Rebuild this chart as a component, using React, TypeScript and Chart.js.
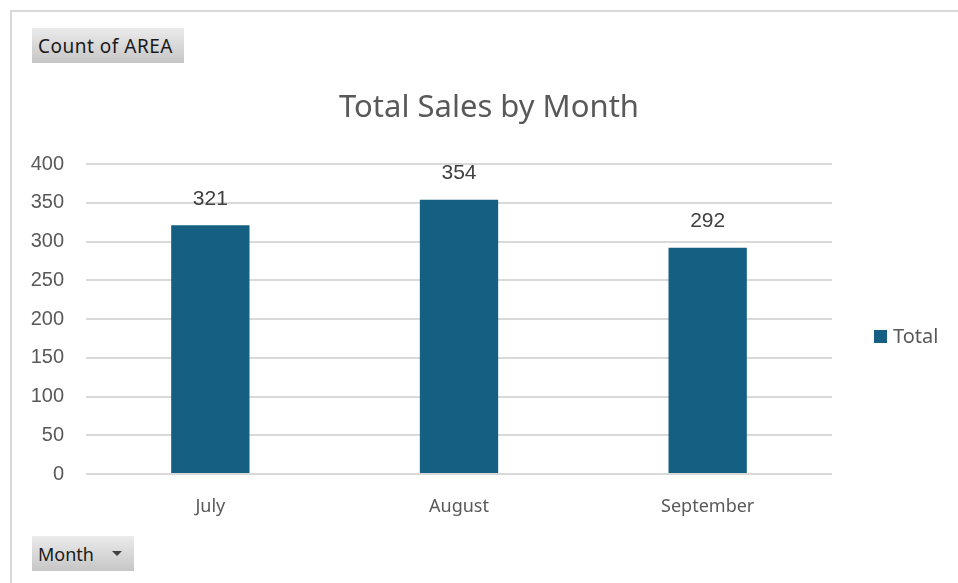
import React, { useEffect, useRef } from "react";
import { Chart, registerables } from "chart.js";

Chart.register(...registerables);

const months = ["July", "August", "September"];
const totals = [321, 354, 292];
const seriesName = "Total";
const chartTitle = "Total Sales by Month";
const yTicks = [0, 50, 100, 150, 200, 250, 300, 350, 400];

const BAR = "#156082";

const overlayPlugin = {
  id: "overlay",
  afterDatasetsDraw(chart: any) {
    const ctx = chart.ctx;
    const meta = chart.getDatasetMeta(0);
    ctx.save();
    // data labels
    ctx.font = "21px 'Liberation Sans', Arial, sans-serif";
    ctx.fillStyle = "#404040";
    ctx.textAlign = "center";
    ctx.textBaseline = "middle";
    meta.data.forEach((bar: any, i: number) => {
      const v = chart.data.datasets[0].data[i];
      ctx.fillText(String(v), bar.x, bar.y - 26);
    });
    // title
    ctx.font = "31px 'Noto Sans', sans-serif";
    ctx.fillStyle = "#595959";
    ctx.fillText(chartTitle, 489, 108);
    // legend
    const area = chart.chartArea;
    ctx.fillStyle = BAR;
    ctx.fillRect(area.right + 42, 330, 13, 13);
    ctx.font = "20px 'Noto Sans', sans-serif";
    ctx.fillStyle = "#595959";
    ctx.textAlign = "left";
    ctx.fillText(chart.data.datasets[0].label, area.right + 61, 337);
    ctx.restore();
  },
};

const btnStyle: React.CSSProperties = {
  position: "absolute",
  left: 32,
  height: 35,
  background: "linear-gradient(#ebebeb, #c6c6c6)",
  fontFamily: "'Noto Sans', sans-serif",
  fontSize: 18,
  color: "#1a1a1a",
  display: "flex",
  alignItems: "center",
  paddingLeft: 6,
  boxSizing: "border-box",
  whiteSpace: "nowrap",
};

export default function App() {
  const ref = useRef<HTMLCanvasElement | null>(null);
  useEffect(() => {
    if (!ref.current) return;
    const chart = new Chart(ref.current, {
      type: "bar",
      data: {
        labels: months,
        datasets: [
          {
            label: seriesName,
            data: totals,
            backgroundColor: BAR,
            categoryPercentage: 1,
            barPercentage: 0.315,
          },
        ],
      },
      options: {
        animation: false,
        responsive: false,
        layout: { padding: { left: 20, right: 126, top: 164, bottom: 49 } },
        plugins: {
          legend: { display: false },
          title: { display: false },
          tooltip: { enabled: false },
        },
        scales: {
          x: {
            grid: { display: false, drawTicks: false },
            border: { display: false },
            ticks: {
              color: "#595959",
              font: { family: "'Noto Sans', sans-serif", size: 18 },
              padding: 22,
              maxRotation: 0,
            },
            afterFit(scale: any) {
              scale.height = 60;
            },
          },
          y: {
            min: yTicks[0],
            max: yTicks[yTicks.length - 1],
            afterBuildTicks(scale: any) {
              scale.ticks = yTicks.map((v) => ({ value: v }));
            },
            grid: { color: "#d9d9d9", lineWidth: 2, drawTicks: false },
            border: { display: false },
            ticks: {
              color: "#595959",
              font: { family: "'Liberation Sans', Arial, sans-serif", size: 20 },
              padding: 22,
            },
            afterFit(scale: any) {
              scale.width = 66;
            },
          },
        },
      },
      plugins: [overlayPlugin],
    });
    return () => chart.destroy();
  }, []);

  return (
    <div style={{ position: "fixed", left: 0, top: 0, width: 958, height: 583, background: "#fff", overflow: "hidden" }}>
      <div style={{ position: "absolute", left: 10, top: 10, right: 0, height: 2, background: "#d9d9d9" }} />
      <div style={{ position: "absolute", left: 10, top: 10, bottom: 0, width: 2, background: "#d9d9d9" }} />
      <canvas ref={ref} width={958} height={583} style={{ position: "absolute", left: 0, top: 0 }} />
      <div style={{ ...btnStyle, top: 28, width: 152, fontSize: 19, letterSpacing: 0.5 }}>Count of AREA</div>
      <div style={{ ...btnStyle, top: 536, width: 102 }}>
        Month
        <span style={{ position: "absolute", left: 80, top: 15, width: 0, height: 0, borderLeft: "5px solid transparent", borderRight: "5px solid transparent", borderTop: "5px solid #404040" }} />
      </div>
    </div>
  );
}
